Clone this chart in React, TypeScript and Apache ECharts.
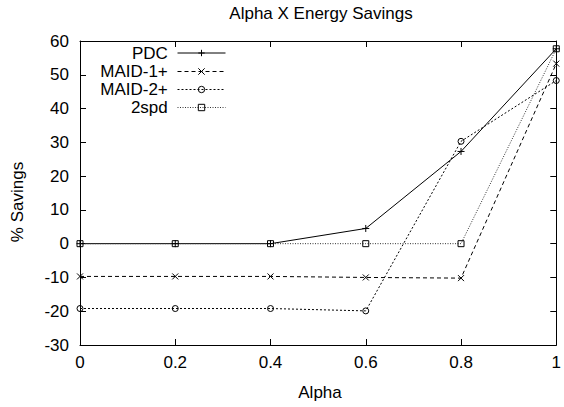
import React, { useEffect, useRef } from "react";
import * as echarts from "echarts";

const alpha = [0, 0.2, 0.4, 0.6, 0.8, 1];
const pdc = [0, 0, 0, 4.5, 27.3, 57.7];
const maid1 = [-9.7, -9.7, -9.7, -10.0, -10.2, 53.3];
const maid2 = [-19.2, -19.2, -19.2, -19.9, 30.3, 48.3];
const twoSpd = [0, 0, 0, 0, 0, 57.7];
const seriesNames = ["PDC", "MAID-1+", "MAID-2+", "2spd"];

const FONT = "'Liberation Sans', Arial, Helvetica, sans-serif";
const PLUS = "path://M0,5L10,5M5,0L5,10";
const CROSS = "path://M0,0L10,10M0,10L10,0";
const CIRCLE = "path://M0,5A5,5 0 1,0 10,5A5,5 0 1,0 0,5Z";
const SQUARE = "path://M0,0L10,0L10,10L0,10Z";

function pairs(ys: number[]) {
  return alpha.map((x, i) => [x, ys[i]]);
}

export default function App() {
  const ref = useRef<HTMLDivElement>(null);
  useEffect(() => {
    if (!ref.current) return;
    const chart = echarts.init(ref.current, undefined, { renderer: "svg" });
    const grid = { left: 80, right: 3, top: 41, bottom: 62 };
    const axisCommon = {
      axisLine: { onZero: false, lineStyle: { color: "#000", width: 1 } },
      axisTick: { inside: true, length: 6, lineStyle: { color: "#000" } },
      splitLine: { show: false },
    };
    const mk = (name: string, ys: number[], dash: any, symbol: string, size: number, color: string) => ({
      type: "line",
      name,
      data: pairs(ys),
      symbol,
      symbolSize: size,
      showAllSymbol: true,
      lineStyle: { color, width: 1, type: dash },
      itemStyle: { color: "none", borderColor: "#000", borderWidth: 1 },
      emphasis: { disabled: true },
      clip: false,
    });
    const rowsY = [53, 71.5, 89.5, 107.5];
    chart.setOption({
      animation: false,
      grid,
      xAxis: [
        {
          type: "value",
          min: 0,
          max: 1,
          interval: 0.2,
          ...axisCommon,
          axisLabel: { color: "#000", fontSize: 17, fontFamily: FONT, margin: 9 },
        },
        {
          type: "value",
          position: "top",
          min: 0,
          max: 1,
          interval: 0.2,
          ...axisCommon,
          axisLabel: { show: false },
        },
      ],
      yAxis: [
        {
          type: "value",
          min: -30,
          max: 60,
          interval: 10,
          ...axisCommon,
          axisLabel: { color: "#000", fontSize: 17, fontFamily: FONT, margin: 11 },
        },
        {
          type: "value",
          position: "right",
          min: -30,
          max: 60,
          interval: 10,
          ...axisCommon,
          axisLabel: { show: false },
        },
      ],
      legend: seriesNames.map((n, i) => ({
        data: [n],
        right: 338,
        top: rowsY[i] - 9,
        align: "right",
        orient: "horizontal",
        padding: 0,
        itemWidth: 48,
        itemHeight: 8,
        selectedMode: false,
        lineStyle: { width: 1 },
        itemStyle: { borderWidth: 1 },
        formatter: (s: string) => s + " ",
        textStyle: { color: "#000", fontSize: 17, fontFamily: FONT, lineHeight: 18 },
      })),
      series: [
        mk(seriesNames[0], pdc, "solid", PLUS, 7, "#000"),
        mk(seriesNames[1], maid1, [4, 3], CROSS, 6, "#000"),
        mk(seriesNames[2], maid2, [2, 2], CIRCLE, 6, "#000"),
        mk(seriesNames[3], twoSpd, [1, 1.5], SQUARE, 6, "#333"),
      ],
      graphic: [
        {
          type: "text",
          x: 321,
          y: 13,
          style: {
            text: "Alpha X Energy Savings",
            fontSize: 17,
            fontFamily: FONT,
            fill: "#000",
            textAlign: "center",
            textVerticalAlign: "middle",
          },
        },
        {
          type: "text",
          x: 320,
          y: 392,
          style: {
            text: "Alpha",
            fontSize: 17,
            fontFamily: FONT,
            fill: "#000",
            textAlign: "center",
            textVerticalAlign: "middle",
          },
        },
        {
          type: "text",
          x: 17,
          y: 202,
          rotation: Math.PI / 2,
          style: {
            text: "% Savings",
            fontSize: 17,
            fontFamily: FONT,
            fill: "#000",
            textAlign: "center",
            textVerticalAlign: "middle",
          },
        },
      ],
    });
    return () => chart.dispose();
  }, []);
  return <div ref={ref} style={{ width: 564, height: 407, position: "absolute", left: 0, top: 0 }} />;
}
